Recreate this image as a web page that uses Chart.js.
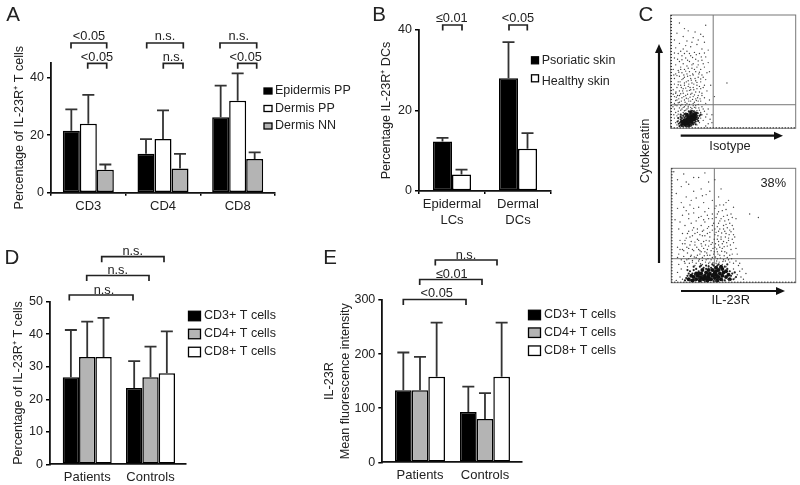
<!DOCTYPE html>
<html>
<head>
<meta charset="utf-8">
<title>IL-23R panels</title>
<script src="https://cdn.jsdelivr.net/npm/chart.js@4"></script>
<style>
    html, body { margin: 0; background: #fff; }
    #page { position: relative; width: 800px; height: 485px; overflow: hidden; }
    canvas { position: absolute; left: 0; top: 0; filter: blur(0.4px); }
</style>
</head>
<body>
<div id="page">
    <canvas id="panel-a" width="800" height="485"></canvas>
    <canvas id="panel-b" width="800" height="485"></canvas>
    <canvas id="panel-c1" width="800" height="485"></canvas>
    <canvas id="panel-c2" width="800" height="485"></canvas>
    <canvas id="panel-d" width="800" height="485"></canvas>
    <canvas id="panel-e" width="800" height="485"></canvas>
</div>
<script>
// Panel A
const aCategories = ["CD3", "CD4", "CD8"];
const aEpidermisPP = [21.5, 13.5, 26.2];
const aDermisPP = [24, 18.7, 32];
const aDermisNN = [8, 8.4, 11.7];
const aEpidermisPPTop = [29, 18.6, 37.2];
const aDermisPPTop = [34, 28.6, 41.5];
const aDermisNNTop = [9.8, 13.5, 14];

// Panel B
const bCategories = [["Epidermal", "LCs"], ["Dermal", "DCs"]];
const bPsoriatic = [12.3, 28];
const bHealthy = [4.1, 10.5];
const bPsoriaticTop = [13.2, 37];
const bHealthyTop = [5.3, 14.4];

// Panel D
const dCategories = ["Patients", "Controls"];
const dCD3 = [26.8, 23.5];
const dCD4 = [33, 26.8];
const dCD8 = [33, 28];
const dCD3Top = [41.3, 31.7];
const dCD4Top = [43.9, 36.2];
const dCD8Top = [45, 40.9];

// Panel E
const eCategories = ["Patients", "Controls"];
const eCD3 = [133, 93];
const eCD4 = [133, 80];
const eCD8 = [158, 158];
const eCD3Top = [203, 140];
const eCD4Top = [195, 128];
const eCD8Top = [258, 258];

// Panel C, events in percent of each axis
const isotypeGate = [34, 20.8];
const il23rGate = [34.6, 21];
const isotypeCloud = [[7,93],[28,91],[14,86],[5,84],[24,83],[10,81],[18,80],[3,78],[13,77],[27,76],[7,75],[21,74],[16,72],[4,71],[10,70],[25,70],[30,69],[13,68],[19,67],[6,66],[23,66],[9,64],[16,64],[28,63],[3,62],[12,62],[20,61],[25,60],[7,59],[15,59],[30,58],[10,57],[18,57],[4,56],[22,56],[13,55],[27,54],[8,54],[17,53],[2,52],[11,52],[24,52],[6,51],[20,50],[15,50],[29,49],[9,49],[4,48],[13,48],[18,47],[25,47],[7,46],[22,45],[11,45],[16,44],[3,44],[28,43],[9,43],[20,42],[14,42],[6,41],[24,41],[17,40],[11,40],[3,39],[27,38],[8,38],[21,38],[14,37],[5,36],[18,36],[24,35],[10,35],[16,34],[2,34],[7,33],[29,33],[13,33],[20,32],[4,31],[10,31],[25,31],[16,30],[7,29],[22,29],[12,29],[18,28],[3,28],[27,27],[9,27],[14,26],[20,26],[5,25],[11,25],[24,24],[16,24],[7,23],[19,23],[3,22],[13,22],[28,22],[9,21],[22,21],[15,21],[5,20],[18,20],[11,19],[25,19],[7,18],[14,18],[20,18],[3,17],[9,17],[23,16],[16,16],[12,16],[6,15],[19,15],[27,15],[10,14],[4,14],[22,13],[25,12],[5,11],[28,10],[3,9],[24,9],[6,7],[26,7],[4,5],[23,5],[30,4],[5,3],[21,3],[28,2],[10,2],[16,2],[33,12],[35,28],[45,40],[31,50],
    [4.5,27.5],[5.5,29],[6.5,26],[8,30.5],[8.5,24],[9.5,33],[10.5,28],[11.5,23],[12,35.5],[12.5,26.5],[13.5,30],[14.5,24],[15,33.5],[15.5,27.5],[17,31],[17.5,25.5],[18.5,34],[19,29.5],[20.5,24.5],[21,35],[21.5,27],[23,32],[23.5,26],[25,29],[26,36],[6,38.5],[7.5,41],[8.5,36],[10,44],[11,38],[12.5,41],[13.5,46],[14.5,39],[15.5,36],[16.5,42.5],[17.5,48],[18.5,39],[19.5,44],[21,40.5],[22.5,48],[23,37],[24,43.5],[26,45],[5,46.5],[6.5,49.5],[8,52],[10.5,47],[12,50.5],[14,53],[15.5,46.5],[17,56],[19,52],[21,54],[23,49.5],[26,57],[9,60.5],[11,66],[13.5,60],[15,66],[17.5,62.5],[20.5,65],[22,59.5],[24.5,63],[27,66.5],[5.5,61],[8,68],[12,73],[17,76],[22,78],[26,81],[19.5,85],[11,88],[3,66.5],[2.5,47],[2,30],[1.8,19],[2.5,12],[3.5,20.5],[4.2,32],[6,12.5],[8,16],[9,11.5],[11,15.5],[13,17],[15,13.5],[17,17.5],[19,18.5],[21,15.5],[22.5,18],[24,14],[26,17],[29,12.5],[30,17],[31,25],[32,38],[31.5,8],[33,5],[8,20],[10,18.5],[12,20.5],[14,19.5],[16,18.5],[18,22],[20,20],[22,24],[6,22.5],[4,24.5]];
const isotypeHalo = [[7,2],[7.5,5],[8,8],[8,10],[9,9],[10,11],[10,2],[11,9.5],[12,10.5],[12,13],[13,2],[14,1.5],[15,12],[14.5,15],[17,13],[17,15.5],[18.5,15],[19,14],[20,6],[21,8],[21,11],[21.5,13.5],[22,9],[19,5],[18,3.5],[20,3.5],[16,4],[23,11],[6.5,4],[8,12],[11,12.5],[16.5,2.5],[22,6.5],[24,12],[6,9],[5.5,6]];
const isotypeBlob = [[9,3],[10,5],[11,4],[12,3],[12,6],[13,5],[14,4],[13,8],[14,7],[15,6],[15,9],[16,8],[17,7],[16,11],[17,10],[18,9],[18,12],[19,11],[14,10],[11,7],[15,3],[17,5],[19,8],[20,10],[9,6],[13,12],[16,14],[20,13]];
const il23rCloud = [[2,97],[10,95],[5,90],[22,92],[30,88],[14,86],[8,84],[35,90],[24,82],[18,80],[4,78],[28,77],[38,75],[12,75],[20,74],[46,72],[33,72],[26,70],[8,70],[42,68],[15,68],[36,67],[50,66],[22,66],[30,65],[5,65],[44,64],[12,63],[38,62],[27,62],[18,61],[48,60],[33,60],[9,59],[42,58],[24,58],[36,57],[14,56],[30,56],[52,56],[46,55],[20,54],[39,54],[7,53],[27,53],[34,52],[16,52],[44,51],[24,50],[49,50],[11,50],[37,49],[30,49],[18,48],[42,47],[6,47],[26,46],[47,46],[33,46],[14,45],[38,45],[21,44],[29,43],[44,43],[9,43],[35,42],[50,42],[17,41],[25,41],[40,40],[31,40],[12,39],[46,39],[21,38],[37,38],[7,37],[28,37],[42,36],[16,36],[33,35],[50,35],[24,34],[11,34],[38,33],[19,33],[45,32],[30,32],[5,31],[35,31],[26,30],[14,30],[41,30],[22,29],[48,29],[9,29],[32,28],[18,28],[37,27],[27,27],[43,27],[13,26],[23,25],[34,25],[6,25],[49,25],[29,24],[16,24],[39,24],[10,23],[25,22],[45,22],[20,22],[33,22],[14,21],[37,21],[28,20],[8,20],[42,20],[22,19],[52,19],[31,18],[17,18],[47,18],[11,17],[36,17],[25,16],[41,16],[6,16],[19,15],[54,15],[30,15],[44,14],[13,14],[8,12],[50,12],[55,10],[5,9],[53,7],[7,5],[51,4],[56,5],[9,3],[47,2],[58,3],[63,60],[70,57],[4,2],
    [10.5,18.5],[12.5,20],[14.5,17],[15.5,23],[17,19.5],[18.5,22.5],[20,17],[21,24],[22.5,20.5],[23.5,16.5],[24,27],[25,19.5],[26.5,23.5],[27.5,18],[28.5,26],[29.5,21],[30,17],[31,24],[32,20],[33.5,17.5],[34.5,27],[35.5,22.5],[36.5,19],[37.5,25],[38.5,18],[39.5,21.5],[40.5,27.5],[41.5,18.5],[42.5,23.5],[43.5,19],[44.5,26],[46,20],[47,24],[48.5,21],[50,17],[10,28],[12.5,31],[15,33],[17,29],[19,35.5],[20.5,31],[22,37],[23,28],[24.5,32],[26,36],[27.5,33],[29,29],[30.5,36.5],[32,33.5],[33.5,30],[34.5,38],[35.5,34],[36.5,29.5],[38,36],[39,31],[40,38],[41,34],[42.5,31.5],[43.5,40],[44.5,35],[46,37],[47.5,33],[49,38],[36,44],[37.5,41],[39,47],[40.5,43.5],[42,50],[43,45],[45,48],[46.5,42],[48,44.5],[50,47],[51,40],[35,47],[33,50],[31,44],[29,47.5],[27,41],[25,45],[23,42],[21,47],[19,43],[17,46],[15,40],[13,43],[11,37],[9,34],[7,29],[5,22],[38,52],[40,56],[43,54],[45,59],[47,52],[49,57],[37,60],[41,63],[35,65],[39,68],[44,70],[33,56],[29,59],[26,55],[22,57],[18,65],[14,60],[10,66],[3,55],[16,72],[25,76],[31,80],[12,88],[18,92],[27,96],[40,82],[52,30],[53,25],[55,17],[57,12],[60,8]];
const il23rHalo = [[11,2],[12,4],[13,6],[14,8],[15,2],[15,10],[17,8],[18,11],[19,2],[19,7],[20,12],[22,4],[22,10],[23,14],[25,6],[26,13],[27,1.5],[28,12],[28,15],[30,14],[32,13],[34,1.5],[34,15],[36,1.5],[37,15],[39,13],[41,2],[43,2],[43,14],[45,12],[46,3],[47,10],[48,6],[49,8],[50,3],[51,9],[52,5],[45,16],[38,16],[33,16],[24,15],[18,14],[13,11]];
const il23rBlob = [[14,3],[17,2],[18,5],[20,3],[21,6],[23,2],[24,4],[24,8],[26,3],[27,6],[28,9],[29,2],[30,5],[31,8],[32,3],[33,6],[33,11],[35,4],[35,9],[36,7],[37,2],[38,5],[38,11],[39,8],[40,3],[41,6],[41,12],[42,9],[44,5],[44,10],[46,7],[36,13],[30,11],[25,11],[20,8],[16,6],[47,3],[40,14],[28,4],[31,3],[34,7],[36,10],[30,7],[27,4],[25,5],[23,5],[22,8],[37,5]];

const BLACK = "#000000";
const GREY = "#b4b4b4";
const WHITE = "#ffffff";
const INK = "#222222";
const FONT = "Liberation Sans";

function text(ctx, str, x, y, size, align, rotate) {
    ctx.save();
    ctx.fillStyle = INK;
    ctx.font = (size || 12.8) + "px '" + FONT + "'";
    ctx.textAlign = align || "center";
    ctx.textBaseline = "middle";
    ctx.translate(x, y);
    if (rotate) ctx.rotate(rotate);
    ctx.fillText(str, 0, 0);
    ctx.restore();
}

// Significance brackets and panel letters, in page pixels
function drawNotes(ctx, notes) {
    (notes.brackets || []).forEach(b => {
        ctx.save();
        ctx.strokeStyle = INK;
        ctx.lineWidth = 1.7;
        ctx.beginPath();
        ctx.moveTo(b.x0, b.y + 5.5);
        ctx.lineTo(b.x0, b.y);
        ctx.lineTo(b.x1, b.y);
        ctx.lineTo(b.x1, b.y + 5.5);
        ctx.stroke();
        ctx.restore();
        text(ctx, b.label, b.tx, b.ty);
    });
    (notes.texts || []).forEach(t => text(ctx, t.s, t.x, t.y, t.size, t.align, t.rotate));
    (notes.arrows || []).forEach(a => {
        const ang = Math.atan2(a.y1 - a.y0, a.x1 - a.x0);
        ctx.save();
        ctx.strokeStyle = "#111";
        ctx.fillStyle = "#111";
        ctx.lineWidth = 2.2;
        ctx.beginPath();
        ctx.moveTo(a.x0, a.y0);
        ctx.lineTo(a.x1, a.y1);
        ctx.stroke();
        ctx.translate(a.x1, a.y1);
        ctx.rotate(ang);
        ctx.beginPath();
        ctx.moveTo(4, 0);
        ctx.lineTo(-5, -4);
        ctx.lineTo(-5, 4);
        ctx.closePath();
        ctx.fill();
        ctx.restore();
    });
}

// Error whiskers go through the value scale, legend comes from the datasets
const barExtras = {
    id: "barExtras",
    afterDatasetsDraw(chart) {
        const ctx = chart.ctx;
        const scale = chart.scales.y;
        chart.data.datasets.forEach((ds, i) => {
            chart.getDatasetMeta(i).data.forEach((bar, j) => {
                const top = scale.getPixelForValue(ds.errorTop[j]);
                ctx.save();
                ctx.strokeStyle = "#333";
                ctx.lineWidth = 1.8;
                ctx.beginPath();
                ctx.moveTo(bar.x, bar.y);
                ctx.lineTo(bar.x, top);
                ctx.moveTo(bar.x - 6, top);
                ctx.lineTo(bar.x + 6, top);
                ctx.stroke();
                ctx.restore();
            });
        });
    },
    afterDraw(chart, args, opts) {
        const ctx = chart.ctx;
        const lg = opts.legend;
        chart.data.datasets.forEach((ds, i) => {
            ctx.save();
            ctx.fillStyle = ds.backgroundColor;
            ctx.strokeStyle = BLACK;
            ctx.lineWidth = 1.3;
            ctx.fillRect(lg.x, lg.rows[i] - lg.h / 2, lg.w, lg.h);
            ctx.strokeRect(lg.x, lg.rows[i] - lg.h / 2, lg.w, lg.h);
            ctx.restore();
            text(ctx, ds.label, lg.tx, lg.textRows ? lg.textRows[i] : lg.rows[i], 12.5, "left");
        });
        drawNotes(ctx, opts.notes);
    }
};

function barChart(id, p) {
    const linear = p.xRange != null;
    const xScale = {
        grid: { display: p.xTick > 0, drawOnChartArea: false, tickLength: p.xTick, color: BLACK, offset: !linear, lineWidth: 1.5 },
        border: { color: "#111", width: 1.8 },
        ticks: { color: INK, font: { family: FONT, size: 13 }, padding: p.xPad, maxRotation: 0, autoSkip: false },
        afterFit: s => { s.height = p.xHeight; }
    };
    if (linear) {
        // group centres do not sit in the middle of the axis in D and E
        Object.assign(xScale, { type: "linear", offset: false, min: p.xRange[0], max: p.xRange[1],
            afterBuildTicks: s => { s.ticks = p.categories.map((c, i) => ({ value: i + 1 })); } });
        xScale.ticks.callback = v => p.categories[v - 1];
    }
    new Chart(document.getElementById(id), {
        type: "bar",
        data: {
            labels: p.categories,
            datasets: p.series.map(s => ({
                label: s.label,
                data: linear ? s.values.map((v, i) => ({ x: i + 1, y: v })) : s.values,
                errorTop: s.top,
                backgroundColor: s.color,
                borderColor: BLACK,
                borderWidth: 1.5,
                borderSkipped: false,
                barPercentage: 1,
                categoryPercentage: p.catPct
            }))
        },
        options: {
            responsive: false,
            animation: false,
            devicePixelRatio: 1,
            layout: {
                autoPadding: false,
                padding: { left: p.titleLeft, top: p.top, right: 800 - p.right, bottom: 485 - p.bottom - p.xHeight }
            },
            scales: {
                x: xScale,
                y: {
                    min: 0,
                    max: p.yMax,
                    grid: { drawOnChartArea: false, tickLength: 4, color: BLACK, lineWidth: 1.5 },
                    border: { color: "#111", width: 1.8 },
                    ticks: { stepSize: p.yStep, includeBounds: false, color: INK, font: { family: FONT, size: 12.5 }, padding: 3 },
                    title: { display: true, text: p.title, color: INK, padding: 0, font: { family: FONT, size: 12.6, lineHeight: 1.3 } },
                    afterFit: s => { s.width = p.left - p.titleLeft; }
                }
            },
            plugins: {
                legend: { display: false },
                tooltip: { enabled: false },
                barExtras: { legend: p.legend, notes: p.notes }
            }
        },
        plugins: [barExtras]
    });
}

barChart("panel-a", {
    categories: aCategories,
    series: [
        { label: "Epidermis PP", values: aEpidermisPP, top: aEpidermisPPTop, color: BLACK },
        { label: "Dermis PP", values: aDermisPP, top: aDermisPPTop, color: WHITE },
        { label: "Dermis NN", values: aDermisNN, top: aDermisNNTop, color: GREY }
    ],
    title: "Percentage of IL-23R\u207A T cells",
    titleLeft: 11, left: 51, right: 275, top: 62.7, bottom: 192.7, xHeight: 24,
    yMax: 45.2, yStep: 20, catPct: 0.683, xTick: 3, xPad: 3,
    legend: { x: 264, w: 8, h: 6, rows: [91, 108.5, 126], tx: 275 },
    notes: {
        texts: [{ s: "A", x: 13, y: 15, size: 20.5 }],
        brackets: [
            { x0: 71, x1: 106.7, y: 43, label: "<0.05", tx: 89, ty: 36 },
            { x0: 87.7, x1: 106.7, y: 63.3, label: "<0.05", tx: 97, ty: 57 },
            { x0: 146.7, x1: 183.3, y: 43, label: "n.s.", tx: 165, ty: 36.5 },
            { x0: 163.3, x1: 183, y: 63.3, label: "n.s.", tx: 173, ty: 57 },
            { x0: 220, x1: 256.7, y: 43, label: "n.s.", tx: 238.7, ty: 36.5 },
            { x0: 237.7, x1: 256.7, y: 63.3, label: "<0.05", tx: 245.7, ty: 57 }
        ]
    }
});

barChart("panel-b", {
    categories: bCategories,
    series: [
        { label: "Psoriatic skin", values: bPsoriatic, top: bPsoriaticTop, color: BLACK },
        { label: "Healthy skin", values: bHealthy, top: bHealthyTop, color: WHITE }
    ],
    title: "Percentage IL-23R\u207A DCs",
    titleLeft: 378, left: 419, right: 551, top: 30, bottom: 191, xHeight: 40,
    yMax: 40, yStep: 20, catPct: 0.576, xTick: 3, xPad: 3,
    legend: { x: 531.5, w: 7, h: 7, rows: [60.3, 78.3], textRows: [60.3, 81.7], tx: 541.7 },
    notes: {
        texts: [{ s: "B", x: 379, y: 15, size: 20.5 }],
        brackets: [
            { x0: 442.7, x1: 462, y: 25, label: "\u22640.01", tx: 451.7, ty: 18 },
            { x0: 509, x1: 527.3, y: 25, label: "<0.05", tx: 518, ty: 18 }
        ]
    }
});

barChart("panel-d", {
    categories: dCategories,
    series: [
        { label: "CD3+ T cells", values: dCD3, top: dCD3Top, color: BLACK },
        { label: "CD4+ T cells", values: dCD4, top: dCD4Top, color: GREY },
        { label: "CD8+ T cells", values: dCD8, top: dCD8Top, color: WHITE }
    ],
    title: "Percentage of IL-23R\u207A T cells",
    titleLeft: 10, left: 50, right: 185.7, top: 301.7, bottom: 464.3, xHeight: 20,
    yMax: 50, yStep: 10, catPct: 0.774, xTick: 0, xPad: 5.5, xRange: [0.412, 2.556],
    legend: { x: 188.5, w: 12, h: 9.5, rows: [316, 334, 352], tx: 204 },
    notes: {
        texts: [{ s: "D", x: 12, y: 258, size: 20.5 }],
        brackets: [
            { x0: 69.3, x1: 133, y: 295, label: "n.s.", tx: 104, ty: 290 },
            { x0: 86.7, x1: 149, y: 275.5, label: "n.s.", tx: 117.7, ty: 270 },
            { x0: 101.7, x1: 164, y: 256.7, label: "n.s.", tx: 132.7, ty: 251 }
        ]
    }
});

barChart("panel-e", {
    categories: eCategories,
    series: [
        { label: "CD3+ T cells", values: eCD3, top: eCD3Top, color: BLACK },
        { label: "CD4+ T cells", values: eCD4, top: eCD4Top, color: GREY },
        { label: "CD8+ T cells", values: eCD8, top: eCD8Top, color: WHITE }
    ],
    title: ["IL-23R", "Mean fluorescence intensity"],
    titleLeft: 321, left: 382.3, right: 521.7, top: 300, bottom: 462.3, xHeight: 20,
    yMax: 300, yStep: 100, catPct: 0.769, xTick: 0, xPad: 5.5, xRange: [0.42, 2.565],
    legend: { x: 528.5, w: 12, h: 9.5, rows: [315, 332.7, 350.7], tx: 544 },
    notes: {
        texts: [{ s: "E", x: 330, y: 258, size: 20.5 }],
        brackets: [
            { x0: 403.3, x1: 466, y: 299.5, label: "<0.05", tx: 436.7, ty: 293.7 },
            { x0: 419.7, x1: 482, y: 279.5, label: "\u22640.01", tx: 451.7, ty: 274 },
            { x0: 435.3, x1: 497, y: 260, label: "n.s.", tx: 466, ty: 255 }
        ]
    }
});

// Box and quadrant gate for the dot plots
const dotExtras = {
    id: "dotExtras",
    beforeDatasetsDraw(chart, args, opts) {
        const ctx = chart.ctx;
        const a = chart.chartArea;
        const gx = chart.scales.x.getPixelForValue(opts.gate[0]);
        const gy = chart.scales.y.getPixelForValue(opts.gate[1]);
        ctx.save();
        ctx.strokeStyle = "#777";
        ctx.lineWidth = 1;
        ctx.strokeRect(a.left, a.top, a.right - a.left, a.bottom - a.top);
        ctx.beginPath();
        ctx.moveTo(gx, a.top);
        ctx.lineTo(gx, a.bottom);
        ctx.moveTo(a.left, gy);
        ctx.lineTo(a.right, gy);
        ctx.stroke();
        // piled up events on the left and bottom edges
        ctx.strokeStyle = "#333";
        ctx.lineWidth = 1.6;
        ctx.setLineDash([1, 2]);
        ctx.beginPath();
        ctx.moveTo(a.left + 0.5, a.top);
        ctx.lineTo(a.left + 0.5, a.bottom);
        ctx.moveTo(a.left, a.bottom - 0.5);
        ctx.lineTo(a.right, a.bottom - 0.5);
        ctx.stroke();
        ctx.restore();
    },
    afterDraw(chart, args, opts) {
        drawNotes(chart.ctx, opts.notes);
    }
};

function dotPlot(id, p) {
    const toXY = pts => pts.map(pt => ({ x: pt[0], y: pt[1] }));
    new Chart(document.getElementById(id), {
        type: "scatter",
        data: {
            datasets: [
                { data: toXY(p.cloud), pointRadius: 0.7, pointBorderWidth: 0, backgroundColor: "#444" },
                { data: toXY(p.halo), pointRadius: 1.1, pointBorderWidth: 0, backgroundColor: "#222" },
                { data: toXY(p.blob), pointRadius: 2, pointBorderWidth: 0, backgroundColor: "#111" }
            ]
        },
        options: {
            responsive: false,
            animation: false,
            devicePixelRatio: 1,
            layout: { autoPadding: false, padding: { left: p.left, top: p.top, right: 800 - p.right, bottom: 485 - p.bottom } },
            scales: {
                x: { display: false, min: 0, max: 100 },
                y: { display: false, min: 0, max: 100 }
            },
            plugins: {
                legend: { display: false },
                tooltip: { enabled: false },
                dotExtras: { gate: p.gate, notes: p.notes }
            }
        },
        plugins: [dotExtras]
    });
}

dotPlot("panel-c1", {
    cloud: isotypeCloud, halo: isotypeHalo, blob: isotypeBlob, gate: isotypeGate,
    left: 670.7, right: 795.7, top: 15, bottom: 128.3,
    notes: {
        texts: [
            { s: "C", x: 646, y: 15.5, size: 20.5 },
            { s: "Isotype", x: 730, y: 146 },
            { s: "Cytokeratin", x: 645.7, y: 151, rotate: -Math.PI / 2 }
        ],
        arrows: [
            { x0: 680.7, y0: 135.7, x1: 779, y1: 135.7 },
            { x0: 659, y0: 263, x1: 659, y1: 48 }
        ]
    }
});

dotPlot("panel-c2", {
    cloud: il23rCloud, halo: il23rHalo, blob: il23rBlob, gate: il23rGate,
    left: 671.3, right: 795.7, top: 168.3, bottom: 282.7,
    notes: {
        texts: [
            { s: "38%", x: 773.3, y: 183.5 },
            { s: "IL-23R", x: 730.7, y: 300 }
        ],
        arrows: [{ x0: 681, y0: 291, x1: 781, y1: 291 }]
    }
});
</script>
</body>
</html>
